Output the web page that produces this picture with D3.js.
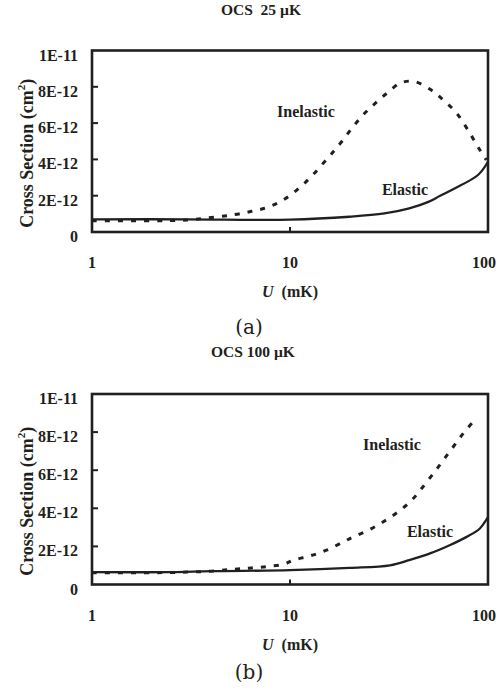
<!DOCTYPE html>
<html>
<head>
<meta charset="utf-8">
<script src="https://cdn.jsdelivr.net/npm/d3@7"></script>
<style>
  body { margin: 0; background: #fff; }
  text { font-family: "Liberation Serif", "Times New Roman", serif; font-weight: bold; fill: #231f20; }
</style>
</head>
<body>
<svg id="chart"></svg>
<script>
// x values (U in mK) and cross sections (units of 1E-12 cm^2)
const elasticA_U = [1, 3, 10, 20, 30, 40, 50, 57, 67, 89, 100];
const elasticA_V = [0.7, 0.7, 0.68, 0.84, 1.02, 1.3, 1.66, 1.98, 2.37, 3.14, 3.87];
const inelasticA_U = [1, 2, 3, 4, 5.2, 6.4, 7.8, 9.5, 12, 15.6, 18, 20.5, 23.4, 27, 31, 36, 42, 51, 59.5, 69.5, 81, 91, 98];
const inelasticA_V = [0.62, 0.62, 0.66, 0.8, 0.95, 1.14, 1.38, 1.85, 2.75, 4.1, 4.9, 5.7, 6.45, 7.1, 7.66, 8.2, 8.3, 7.86, 7.27, 6.54, 5.44, 4.52, 3.97];

const elasticB_U = [1, 2.5, 4, 10, 20, 32, 40, 51, 64, 78, 91, 100];
const elasticB_V = [0.65, 0.65, 0.7, 0.75, 0.87, 1.01, 1.28, 1.63, 2.06, 2.5, 2.94, 3.55];
const inelasticB_U = [1, 2, 3, 4, 5.2, 6.4, 7.8, 9.4, 10.4, 12.6, 15.3, 18.6, 20.9, 24.9, 29.6, 35.2, 41.2, 46.2, 53, 59.5, 66.8, 75, 84.3, 87];
const inelasticB_V = [0.62, 0.62, 0.65, 0.7, 0.8, 0.87, 0.95, 1.08, 1.28, 1.5, 1.8, 2.24, 2.5, 2.85, 3.29, 3.82, 4.43, 5.04, 5.83, 6.53, 7.23, 7.93, 8.54, 8.65];

const xTicks = [1, 10, 100];
const yTicks = [0, 2, 4, 6, 8, 10];
const yTickLabels = ["0", "2E-12", "4E-12", "6E-12", "8E-12", "1E-11"];

const ink = "#231f20";
const svg = d3.select("#chart").attr("width", 498).attr("height", 693);

function zip(us, vs) { return us.map((u, i) => ({ u: u, v: vs[i] })); }

function panel(cfg) {
  const x = d3.scaleLog().domain([1, 100]).range([92, 488]);
  const y = d3.scaleLinear().domain([0, 10]).range([cfg.bottom, cfg.top]);
  const g = svg.append("g");

  // title
  g.append("text").attr("x", cfg.titleX).attr("y", cfg.titleY)
    .attr("text-anchor", "middle").attr("font-size", 15.5)
    .attr("xml:space", "preserve").text(cfg.title);

  // ticks inside frame
  g.selectAll(".xt").data(xTicks.slice(1, -1)).enter().append("line")
    .attr("x1", d => x(d)).attr("x2", d => x(d))
    .attr("y1", cfg.bottom).attr("y2", cfg.bottom - 5)
    .attr("stroke", ink).attr("stroke-width", 2);
  g.selectAll(".yt").data(yTicks.slice(1, -1)).enter().append("line")
    .attr("x1", 92).attr("x2", 98)
    .attr("y1", d => y(d)).attr("y2", d => y(d))
    .attr("stroke", ink).attr("stroke-width", 2);

  // tick labels (last one pulled in so it stays on the page)
  g.selectAll(".xl").data(xTicks).enter().append("text")
    .attr("x", (d, i) => i === xTicks.length - 1 ? 496 : x(d))
    .attr("y", cfg.bottom + 36)
    .attr("text-anchor", (d, i) => i === xTicks.length - 1 ? "end" : "middle")
    .attr("font-size", 16)
    .text(d => d);
  g.selectAll(".yl").data(yTicks).enter().append("text")
    .attr("x", 78).attr("y", d => y(d) + 10)
    .attr("text-anchor", "end").attr("font-size", 16)
    .text((d, i) => yTickLabels[i]);

  // axis titles
  const xt = g.append("text").attr("x", 290).attr("y", cfg.bottom + 65)
    .attr("text-anchor", "middle").attr("font-size", 16);
  xt.append("tspan").attr("font-style", "italic").text("U");
  xt.append("tspan").text("\u00a0 (mK)");

  const yt = g.append("text")
    .attr("transform", `translate(33,${(cfg.top + cfg.bottom) / 2 + 12}) rotate(-90)`)
    .attr("text-anchor", "middle").attr("font-size", 18);
  yt.append("tspan").text("Cross Section (cm");
  yt.append("tspan").attr("font-size", 11).attr("dy", -8).text("2");
  yt.append("tspan").attr("dy", 8).text(")");

  // data lines
  const line = d3.line().x(d => x(d.u)).y(d => y(d.v)).curve(d3.curveCatmullRom);
  g.append("path").datum(zip(cfg.inU, cfg.inV)).attr("d", line)
    .attr("fill", "none").attr("stroke", ink).attr("stroke-width", 3)
    .attr("stroke-dasharray", "5,8");
  g.append("path").datum(zip(cfg.elU, cfg.elV)).attr("d", line)
    .attr("fill", "none").attr("stroke", ink).attr("stroke-width", 2.3);

  // frame
  g.append("rect").attr("x", 92).attr("y", cfg.top)
    .attr("width", 396).attr("height", cfg.bottom - cfg.top)
    .attr("fill", "none").attr("stroke", ink).attr("stroke-width", 2.6);

  // series labels
  g.append("text").attr("x", cfg.inLab[0]).attr("y", cfg.inLab[1])
    .attr("text-anchor", "middle").attr("font-size", 16).text("Inelastic");
  g.append("text").attr("x", cfg.elLab[0]).attr("y", cfg.elLab[1])
    .attr("text-anchor", "middle").attr("font-size", 16).text("Elastic");

  // caption
  g.append("text").attr("x", 249).attr("y", cfg.capY)
    .attr("text-anchor", "middle").attr("font-size", 20)
    .style("font-weight", "normal").style("font-family", "'DejaVu Serif', serif")
    .text(cfg.caption);
}

panel({
  title: "OCS  25 \u00b5K", titleX: 261, titleY: 15,
  top: 50.5, bottom: 232,
  elU: elasticA_U, elV: elasticA_V, inU: inelasticA_U, inV: inelasticA_V,
  inLab: [306, 117], elLab: [405, 195],
  caption: "(a)", capY: 334
});

panel({
  title: "OCS 100 \u00b5K", titleX: 253, titleY: 357,
  top: 394, bottom: 584.5,
  elU: elasticB_U, elV: elasticB_V, inU: inelasticB_U, inV: inelasticB_V,
  inLab: [392, 450], elLab: [430, 537],
  caption: "(b)", capY: 679
});
</script>
</body>
</html>
